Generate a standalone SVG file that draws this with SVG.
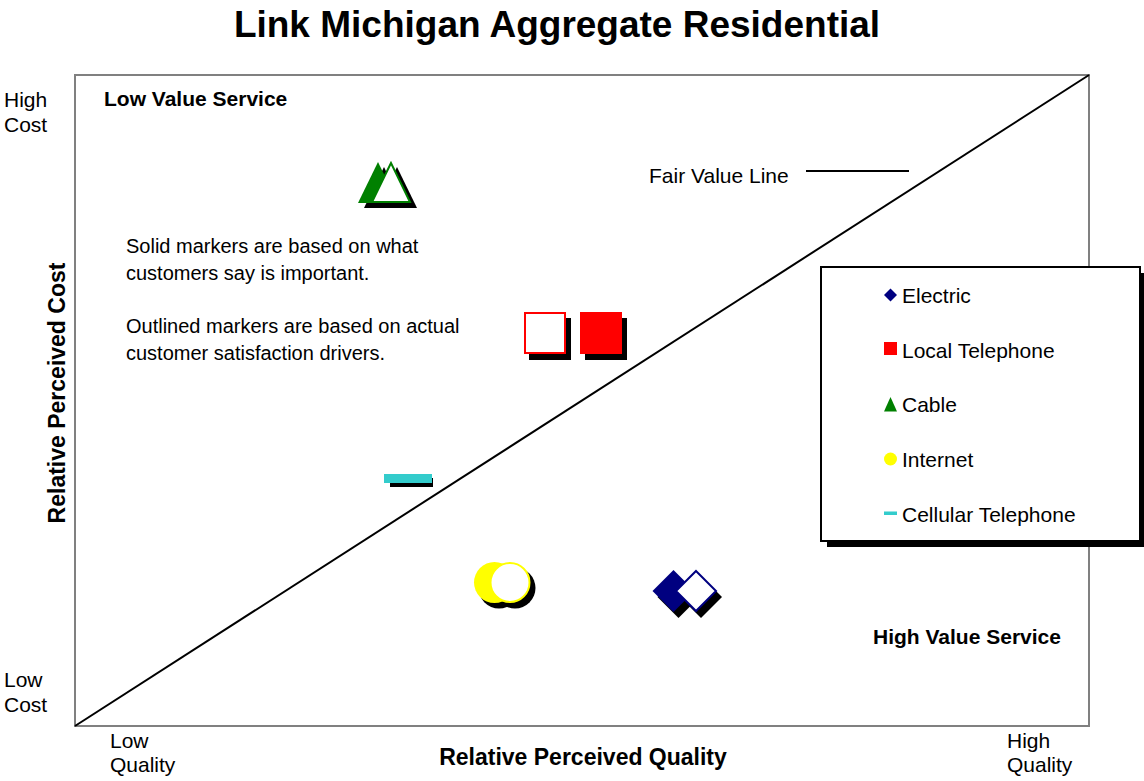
<svg xmlns="http://www.w3.org/2000/svg" width="1144" height="781" viewBox="0 0 1144 781">
<style>
text{font-family:"Liberation Sans",Arial,sans-serif;fill:#000}
.r{font-size:21px}
.n{font-size:20px}
.b{font-size:21px;font-weight:bold}
.a{font-size:23px;font-weight:bold}
.t{font-size:37px;font-weight:bold}
.sh{fill:#000}
</style>
<rect width="1144" height="781" fill="#fff"/>
<text class="t" x="557" y="37" text-anchor="middle">Link Michigan Aggregate Residential</text>
<g id="frame">
<rect x="75" y="75" width="1014" height="651" fill="none" stroke="#808080" stroke-width="2"/>
</g>
<g id="connectors">
<line x1="75" y1="726" x2="1089" y2="75" stroke="#000" stroke-width="2"/>
<line x1="806" y1="171" x2="909" y2="171" stroke="#000" stroke-width="2"/>
</g>
<g id="axis-labels">
<text class="r" x="4" y="107">High</text>
<text class="r" x="4" y="132">Cost</text>
<text class="r" x="4" y="687">Low</text>
<text class="r" x="4" y="712">Cost</text>
<text class="r" x="110" y="748">Low</text>
<text class="r" x="110" y="772">Quality</text>
<text class="r" x="1007" y="748">High</text>
<text class="r" x="1007" y="772">Quality</text>
<text class="a" x="583" y="765" text-anchor="middle">Relative Perceived Quality</text>
<text class="a" transform="translate(65,393) rotate(-90)" text-anchor="middle">Relative Perceived Cost</text>
<text class="b" x="104" y="106">Low Value Service</text>
<text class="b" x="873" y="644">High Value Service</text>
<text class="r" x="649" y="183">Fair Value Line</text>
</g>
<g id="note">
<text class="n" x="126" y="253">Solid markers are based on what</text>
<text class="n" x="126" y="280">customers say is important.</text>
<text class="n" x="126" y="333">Outlined markers are based on actual</text>
<text class="n" x="126" y="360">customer satisfaction drivers.</text>
</g>
<g id="cable">
<polygon class="sh" points="384,167 364,208 404,208"/>
<polygon class="sh" points="397,167 377,208 417,208"/>
<polygon points="378,162 358,203 398,203" fill="#008000"/>
<polygon points="391,163 372,202 410,202" fill="#fff" stroke="#008000" stroke-width="2"/>
</g>
<g id="local-telephone">
<rect class="sh" x="529" y="318" width="42" height="42"/>
<rect class="sh" x="585" y="318" width="42" height="42"/>
<rect x="525" y="313" width="40" height="40" fill="#fff" stroke="#f00" stroke-width="2"/>
<rect x="580" y="312" width="42" height="42" fill="#f00"/>
</g>
<g id="cellular-telephone">
<rect class="sh" x="390" y="478" width="43" height="9"/>
<rect x="384" y="474" width="48" height="9" fill="#33cccc"/>
</g>
<g id="internet">
<circle class="sh" cx="499" cy="588" r="20.5"/>
<circle class="sh" cx="515" cy="588" r="20.5"/>
<circle cx="494.5" cy="582.5" r="20.5" fill="#ff0"/>
<circle cx="510" cy="582.5" r="19.5" fill="#fff" stroke="#ff0" stroke-width="2"/>
</g>
<g id="electric">
<polygon class="sh" points="678.5,576 699.5,597 678.5,618 657.5,597"/>
<polygon class="sh" points="701,576 722,597 701,618 680,597"/>
<polygon points="673.5,570 694.5,591 673.5,612 652.5,591" fill="#000080"/>
<polygon points="696,571 716,591 696,611 676,591" fill="#fff" stroke="#000080" stroke-width="2"/>
</g>
<g id="legend">
<rect class="sh" x="827" y="273" width="319" height="274"/>
<rect x="821" y="267" width="319" height="274" fill="#fff" stroke="#000" stroke-width="2"/>
<polygon points="890.5,288.5 897,295 890.5,301.5 884,295" fill="#000080"/>
<text class="r" x="902" y="303">Electric</text>
<rect x="884" y="342" width="13" height="13" fill="#f00"/>
<text class="r" x="902" y="358">Local Telephone</text>
<polygon points="890.5,397 897,411.5 884,411.5" fill="#008000"/>
<text class="r" x="902" y="412">Cable</text>
<circle cx="890.5" cy="459" r="6.5" fill="#ff0"/>
<text class="r" x="902" y="467">Internet</text>
<rect x="884" y="511.5" width="13" height="3.5" fill="#33cccc"/>
<text class="r" x="902" y="522">Cellular Telephone</text>
</g>
</svg>
